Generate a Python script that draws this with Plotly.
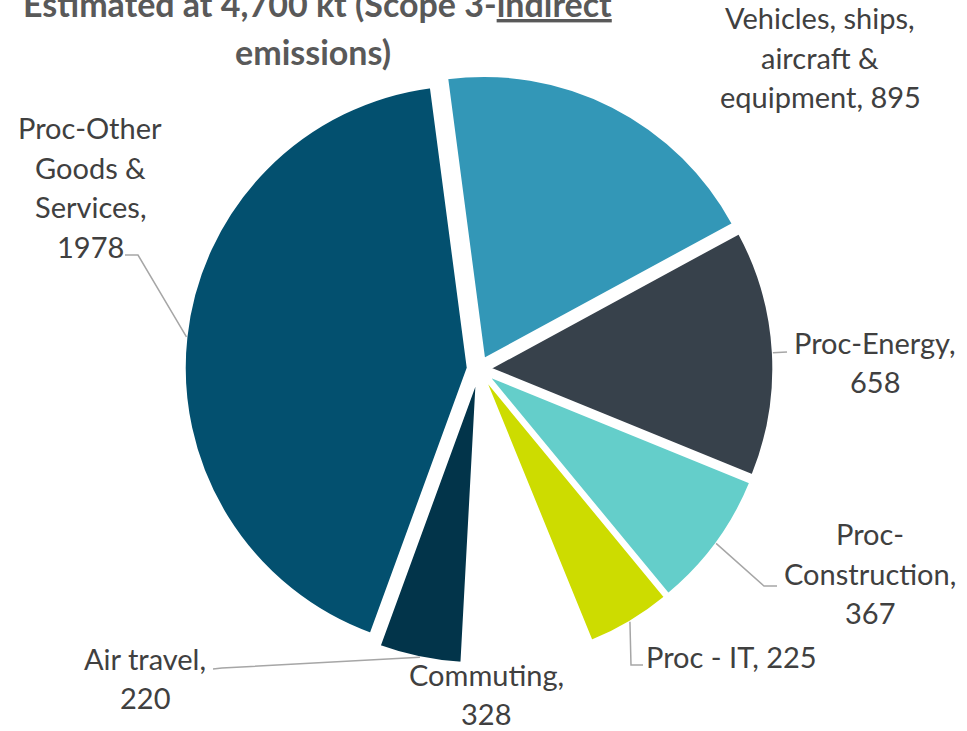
import math
import plotly.graph_objects as go

# ---- data ----
categories = ["Vehicles, ships, aircraft & equipment", "Proc-Energy", "Proc-Construction",
              "Proc - IT", "Commuting", "Air travel", "Proc-Other Goods & Services"]
values = [895, 658, 367, 225, 328, 220, 1978]
label_names = ["Vehicles, ships,<br>aircraft &<br>equipment", "Proc-Energy", "Proc-<br>Construction",
               "Proc - IT", "Commuting", "Air travel", "Proc-Other<br>Goods &<br>Services"]
label_seps = [", ", ",<br>", ",<br>", ", ", ",<br>", ",<br>", ",<br>"]
colors = ["#3397b7", "#37414b", "#64ceca", "#cddc00", "#ffffff", "#02344a", "#03506f"]

# ---- layout settings ----
W, H = 967, 731
ROT = -7.5
PULL = 0.04
CX, CY = 479.0, 369.0          # pie centre in px
R = 283.0                      # pie radius in px
half = R * (1 + PULL)
dom_x = [(CX - half) / W, (CX + half) / W]
dom_y = [1 - (CY + half) / H, 1 - (CY - half) / H]

label_pos = [(820, 57), (875, 362), (870, 573), (731, 656), (486, 694), (145, 678), (90, 187)]
LINE_H = 39.5
# leader lines: points on the label side (label end, knee); None = no leader
leaders = [None, [(787, 352)], [(777, 586), (764, 586)], [(643, 665), (631, 665)],
           None, [(213, 669), (222, 668)], [(125, 255), (138, 255)]]

FONT = "Lato"
TXT = "#404040"

fig = go.Figure(go.Pie(
    labels=categories, values=values, sort=False, direction="clockwise",
    rotation=ROT, pull=[PULL] * len(values), textinfo="none", hoverinfo="label+value",
    marker=dict(colors=colors, line=dict(color="white", width=2)),
    domain=dict(x=dom_x, y=dom_y), showlegend=False,
))

total = sum(values)
annotations = []
shapes = []
cum = 0.0
for i, v in enumerate(values):
    mid = math.radians(ROT + (cum + v / 2) / total * 360)
    cum += v
    rr = R * (1 + PULL)
    anchor = (CX + rr * math.sin(mid), CY - rr * math.cos(mid))
    lines = f"{label_names[i]}{label_seps[i]}{values[i]}".split("<br>")
    n = len(lines)
    px, py = label_pos[i]
    for k, line in enumerate(lines):
        yy = py + (k - (n - 1) / 2) * LINE_H
        annotations.append(dict(
            x=px / W, y=1 - yy / H, xref="paper", yref="paper", showarrow=False,
            text=line, xanchor="center", yanchor="middle",
            font=dict(family=FONT, size=29, color=TXT),
        ))
    if leaders[i]:
        pts = leaders[i] + [anchor]
        path = "M " + " L ".join(f"{p[0]/W:.5f},{1 - p[1]/H:.5f}" for p in pts)
        shapes.append(dict(type="path", path=path, xref="paper", yref="paper",
                           line=dict(color="#a6a6a6", width=1.5)))

# title (two lines, top cut off like the reference)
annotations.append(dict(x=317 / W, y=1 - 3 / H, xref="paper", yref="paper", showarrow=False,
                        text="<b>Estimated at 4,700 kt (Scope 3-<u>indirect</u></b>",
                        xanchor="center", yanchor="middle",
                        font=dict(family=FONT, size=34, color="#595959")))
annotations.append(dict(x=313 / W, y=1 - 52 / H, xref="paper", yref="paper", showarrow=False,
                        text="<b>emissions)</b>", xanchor="center", yanchor="middle",
                        font=dict(family=FONT, size=34, color="#595959")))

fig.update_layout(
    width=W, height=H, margin=dict(l=0, r=0, t=0, b=0),
    paper_bgcolor="white", plot_bgcolor="white",
    annotations=annotations, shapes=shapes,
)
fig.write_html("out.html", config={"displayModeBar": False},
               post_script="document.body.style.margin='0';")
